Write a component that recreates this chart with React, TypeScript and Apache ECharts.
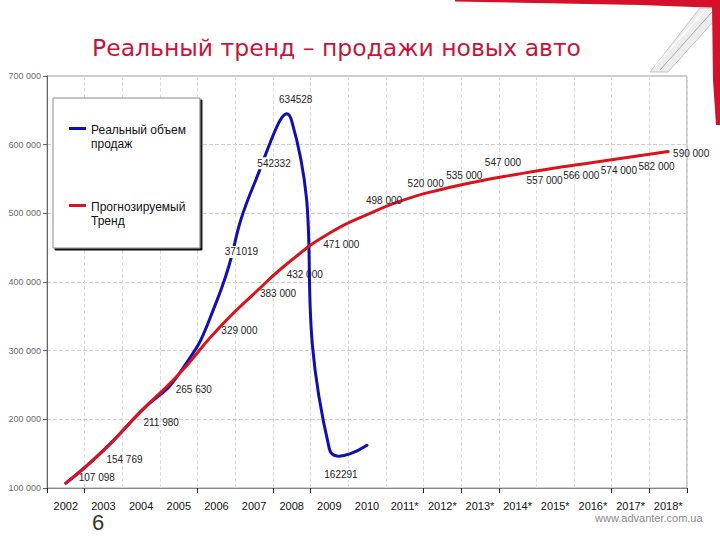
import React, { useEffect, useRef } from "react";
import * as echarts from "echarts";

// ---- data ----
const years = [
  "2002", "2003", "2004", "2005", "2006", "2007", "2008", "2009", "2010",
  "2011*", "2012*", "2013*", "2014*", "2015*", "2016*", "2017*", "2018*",
];
const realSales = [107098, 154769, 211980, 265630, 371019, 542332, 634528, 157000, 162291];
const trend = [
  107098, 154769, 211980, 265630, 329000, 383000, 432000, 471000, 498000,
  520000, 535000, 547000, 557000, 566000, 574000, 582000, 590000,
];
const realLabelIndexes = [4, 5, 6, 8];
const yTicks = [100000, 200000, 300000, 400000, 500000, 600000, 700000];

const seriesNames = ["Реальный объем продаж", "Прогнозируемый Тренд"];
const legendTexts = ["Реальный объем\nпродаж", "Прогнозируемый\nТренд"];
const titleText = "Реальный тренд – продажи новых авто";
const pageNumber = "6";
const siteText = "www.advanter.com.ua";

// ---- styling (label placement) ----
const BLUE = "#1010b0";
const RED = "#d8141e";
const trendLabelOffsets = [
  [31, -6], [21, 9], [20, 11], [15, 15], [23, 0], [24, 0], [13, 14], [12, 11], [17, -14],
  [21, -16], [22, -14], [23, -19], [27, 6], [26, 7], [26, 8], [26, 9], [23, 2],
];
const realLabelOffsets: Record<number, number[]> = {
  4: [25, -50],
  5: [20, -21],
  6: [4, -21],
  8: [-26, 29],
};
const xTickIndexes = [0, 1, 4, 6, 7, 10, 11, 12, 15, 16];

const FONT = "Liberation Sans";
const fmt = (v: number) => String(v).replace(/\B(?=(\d{3})+(?!\d))/g, " ");

function curveSeries(name: string, values: number[], color: string) {
  return {
    name: name + " curve",
    type: "custom",
    data: values.map((v, i) => [i, v]),
    encode: { x: 0, y: 1 },
    z: 2,
    silent: true,
    renderItem: (params: any, api: any) => {
      if (params.dataIndex !== 0) return null;
      const points = values.map((v, i) => api.coord([i, v]));
      return {
        type: "polyline",
        shape: { points, smooth: 0.55 },
        style: { stroke: color, lineWidth: 3, fill: null, lineJoin: "round", lineCap: "round" },
      };
    },
  };
}

export default function App() {
  const ref = useRef<HTMLDivElement>(null);

  useEffect(() => {
    if (!ref.current) return;
    const chart = echarts.init(ref.current, undefined, { renderer: "svg" });

    const realData = realSales.map((v, i) => ({
      value: v,
      label: realLabelIndexes.includes(i)
        ? { show: true, offset: realLabelOffsets[i] }
        : { show: false },
    }));
    const trendData = trend.map((v, i) => ({
      value: v,
      label: { show: true, offset: trendLabelOffsets[i] },
    }));

    const option: any = {
      animation: false,
      backgroundColor: "#ffffff",
      title: {
        text: titleText,
        left: 92,
        top: 36,
        padding: 0,
        textStyle: {
          fontFamily: "DejaVu Sans",
          fontSize: 23.5,
          fontWeight: "normal",
          color: "#c8143c",
        },
      },
      legend: {
        orient: "vertical",
        left: 53,
        top: 98,
        padding: [25, 14, 20, 16],
        itemGap: 49,
        itemWidth: 17,
        itemHeight: 20,
        icon: "path://M0,0H17V3H0ZM0,19.9H0.1V20H0Z",
        itemStyle: { borderWidth: 0 },
        selectedMode: false,
        data: seriesNames,
        formatter: (name: string) => legendTexts[seriesNames.indexOf(name)],
        textStyle: { fontFamily: FONT, fontSize: 12, lineHeight: 14, color: "#111" },
        backgroundColor: "#ffffff",
        borderColor: "#8a8a8a",
        borderWidth: 1,
        shadowColor: "rgba(0,0,0,0.95)",
        shadowOffsetX: 2,
        shadowOffsetY: 2,
        shadowBlur: 0,
      },
      grid: {
        left: 47,
        right: 33,
        top: 76,
        bottom: 52,
        show: true,
        borderColor: "#9a9a9a",
        borderWidth: 1,
        backgroundColor: "#ffffff",
      },
      xAxis: {
        type: "category",
        data: years,
        boundaryGap: true,
        axisLine: { lineStyle: { color: "#8a8a8a", width: 1 } },
        axisTick: {
          show: true,
          length: 5,
          lineStyle: { color: "#222" },
          interval: (i: number) => xTickIndexes.includes(i),
        },
        axisLabel: {
          interval: 0,
          margin: 12,
          fontFamily: FONT,
          fontSize: 11,
          color: "#111",
        },
        splitLine: {
          show: true,
          interval: 0,
          lineStyle: { color: "#dcdcdc", type: "dashed", width: 1 },
        },
      },
      yAxis: {
        type: "value",
        min: yTicks[0],
        max: yTicks[yTicks.length - 1],
        interval: yTicks[1] - yTicks[0],
        axisLine: { show: true, lineStyle: { color: "#666", width: 1 } },
        axisTick: { show: true, length: 4, lineStyle: { color: "#666" } },
        axisLabel: {
          margin: 6,
          fontFamily: FONT,
          fontSize: 9,
          color: "#6a6a6a",
          formatter: (v: number) => fmt(v),
        },
        splitLine: { show: true, lineStyle: { color: "#cfcfcf", type: "dashed", width: 1 } },
      },
      series: [
        curveSeries(seriesNames[0], realSales, BLUE),
        curveSeries(seriesNames[1], trend, RED),
        {
          name: seriesNames[0],
          type: "line",
          data: realData,
          symbol: "circle",
          symbolSize: 0,
          color: BLUE,
          lineStyle: { color: BLUE, width: 3, opacity: 0 },
          itemStyle: { color: BLUE },
          emphasis: { disabled: true },
          label: {
            show: false,
            position: "inside",
            fontFamily: FONT,
            fontSize: 10,
            color: "#222",
            backgroundColor: "#ffffff",
            padding: [1, 2],
            formatter: (p: any) => String(p.value),
          },
          z: 5,
        },
        {
          name: seriesNames[1],
          type: "line",
          data: trendData,
          symbol: "circle",
          symbolSize: 0,
          color: RED,
          lineStyle: { color: RED, width: 3, opacity: 0 },
          itemStyle: { color: RED },
          emphasis: { disabled: true },
          label: {
            show: true,
            position: "inside",
            fontFamily: FONT,
            fontSize: 10,
            color: "#222",
            formatter: (p: any) => fmt(p.value),
          },
          z: 6,
        },
      ],
      graphic: [
        // slide template decoration (top-right corner)
        {
          type: "polygon",
          shape: { points: [[455, 0], [720, 0], [720, 8], [640, 5], [455, 1.5]] },
          style: { fill: "#d4102a" },
          silent: true,
        },
        {
          type: "polygon",
          shape: { points: [[650, 72], [668, 72], [713, 22], [713, 8], [700, 8]] },
          style: { fill: "#ededed", stroke: "#c4c4c4", lineWidth: 1 },
          silent: true,
        },
        {
          type: "line",
          shape: { x1: 712, y1: 12, x2: 660, y2: 70 },
          style: { stroke: "#a8a8a8", lineWidth: 1 },
          silent: true,
        },
        {
          type: "line",
          shape: { x1: 706, y1: 9, x2: 655, y2: 66 },
          style: { stroke: "#ffffff", lineWidth: 1.5 },
          silent: true,
        },
        {
          type: "polygon",
          shape: { points: [[712, 4], [720, 4], [720, 125], [716, 125], [713, 80]] },
          style: { fill: "#d4102a" },
          silent: true,
        },
        // footer
        {
          type: "text",
          left: 92,
          top: 511,
          style: { text: pageNumber, fontFamily: FONT, fontSize: 22, fill: "#333" },
          silent: true,
        },
        {
          type: "text",
          left: 595,
          top: 512,
          style: { text: siteText, fontFamily: FONT, fontSize: 11, fill: "#8a8a8a" },
          silent: true,
        },
      ],
    };

    chart.setOption(option);
    return () => chart.dispose();
  }, []);

  return (
    <div
      ref={ref}
      style={{ position: "fixed", left: 0, top: 0, width: 720, height: 540 }}
    />
  );
}
